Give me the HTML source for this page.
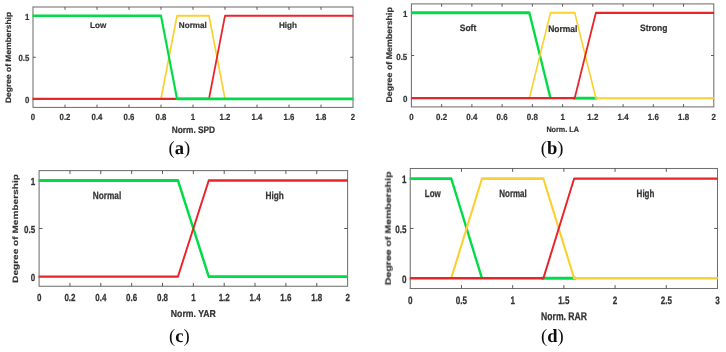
<!DOCTYPE html>
<html lang="en"><head><meta charset="utf-8"><title>Membership functions</title>
<style>html,body{margin:0;padding:0;background:#fff}svg{display:block}text{font-family:"Liberation Sans", sans-serif;font-weight:bold;fill:#333333;stroke:#333333;stroke-width:0.2px;text-rendering:geometricPrecision}.cap{font-family:"Liberation Serif", serif;font-weight:normal;fill:#111;stroke:none}</style></head><body>
<svg width="726" height="352" viewBox="0 0 726 352">
<defs><filter id="soft" x="-2%" y="-2%" width="104%" height="104%"><feGaussianBlur stdDeviation="0.45"/></filter><filter id="soft2" x="-2%" y="-2%" width="104%" height="104%"><feGaussianBlur stdDeviation="0.60"/></filter></defs>
<rect width="726" height="352" fill="#fff"/>
<g filter="url(#soft)" fill="none">
<rect x="33.00" y="7.00" width="320.00" height="100.40" stroke="#707070" stroke-width="1.05"/>
<path d="M65.00 107.40v-2.8M65.00 7.00v2.8M97.00 107.40v-2.8M97.00 7.00v2.8M129.00 107.40v-2.8M129.00 7.00v2.8M161.00 107.40v-2.8M161.00 7.00v2.8M193.00 107.40v-2.8M193.00 7.00v2.8M225.00 107.40v-2.8M225.00 7.00v2.8M257.00 107.40v-2.8M257.00 7.00v2.8M289.00 107.40v-2.8M289.00 7.00v2.8M321.00 107.40v-2.8M321.00 7.00v2.8M33.00 98.80h2.8M353.00 98.80h-2.8M33.00 57.27h2.8M353.00 57.27h-2.8M33.00 15.75h2.8M353.00 15.75h-2.8" stroke="#4a4a4a" stroke-width="0.9"/>
<rect x="411.40" y="3.90" width="302.40" height="103.00" stroke="#707070" stroke-width="1.05"/>
<path d="M441.64 106.90v-2.8M441.64 3.90v2.8M471.88 106.90v-2.8M471.88 3.90v2.8M502.12 106.90v-2.8M502.12 3.90v2.8M532.36 106.90v-2.8M532.36 3.90v2.8M562.60 106.90v-2.8M562.60 3.90v2.8M592.84 106.90v-2.8M592.84 3.90v2.8M623.08 106.90v-2.8M623.08 3.90v2.8M653.32 106.90v-2.8M653.32 3.90v2.8M683.56 106.90v-2.8M683.56 3.90v2.8M411.40 98.20h2.8M713.80 98.20h-2.8M411.40 55.50h2.8M713.80 55.50h-2.8M411.40 12.80h2.8M713.80 12.80h-2.8" stroke="#4a4a4a" stroke-width="0.9"/>
<rect x="39.10" y="170.60" width="308.50" height="115.65" stroke="#707070" stroke-width="1.05"/>
<path d="M69.95 286.25v-3.4M69.95 170.60v3.4M100.80 286.25v-3.4M100.80 170.60v3.4M131.65 286.25v-3.4M131.65 170.60v3.4M162.50 286.25v-3.4M162.50 170.60v3.4M193.35 286.25v-3.4M193.35 170.60v3.4M224.20 286.25v-3.4M224.20 170.60v3.4M255.05 286.25v-3.4M255.05 170.60v3.4M285.90 286.25v-3.4M285.90 170.60v3.4M316.75 286.25v-3.4M316.75 170.60v3.4M39.10 276.60h3.4M347.60 276.60h-3.4M39.10 228.50h3.4M347.60 228.50h-3.4M39.10 180.40h3.4M347.60 180.40h-3.4" stroke="#4a4a4a" stroke-width="0.9"/>
<rect x="410.25" y="168.50" width="307.25" height="120.00" stroke="#707070" stroke-width="1.05"/>
<path d="M461.46 288.50v-3.4M461.46 168.50v3.4M512.67 288.50v-3.4M512.67 168.50v3.4M563.88 288.50v-3.4M563.88 168.50v3.4M615.08 288.50v-3.4M615.08 168.50v3.4M666.29 288.50v-3.4M666.29 168.50v3.4M410.25 278.25h3.4M717.50 278.25h-3.4M410.25 228.43h3.4M717.50 228.43h-3.4M410.25 178.60h3.4M717.50 178.60h-3.4" stroke="#4a4a4a" stroke-width="0.9"/>
</g>
<g filter="url(#soft2)" fill="none" stroke-linejoin="round">
<polyline transform="scale(1 1.250)" points="161.00,79.040 177.00,12.600 209.00,12.600 225.00,79.040" stroke="#fbd031" stroke-width="1.68"/>
<polyline transform="scale(1 1.250)" points="32.50,79.040 209.00,79.040 225.00,12.600 353.30,12.600" stroke="#e8252b" stroke-width="1.76"/>
<polyline transform="scale(1 1.250)" points="32.50,12.600 161.00,12.600 177.00,79.040 353.30,79.040" stroke="#04dc46" stroke-width="2.16"/>
<polyline transform="scale(1 1.250)" points="410.90,10.240 529.34,10.240 550.50,78.560" stroke="#04dc46" stroke-width="2.32"/>
<polyline transform="scale(1 1.250)" points="573.18,78.560 597.38,78.560" stroke="#04dc46" stroke-width="2.32"/>
<polyline transform="scale(1 1.250)" points="529.34,78.560 550.50,10.240 574.70,10.240 595.86,78.560 714.10,78.560" stroke="#fbd031" stroke-width="1.60"/>
<polyline transform="scale(1 1.250)" points="410.90,78.560 574.70,78.560 595.86,10.240 714.10,10.240" stroke="#e8252b" stroke-width="1.76"/>
<polyline transform="scale(1 1.250)" points="38.60,144.320 177.93,144.320 208.78,221.280 347.90,221.280" stroke="#04dc46" stroke-width="2.36"/>
<polyline transform="scale(1 1.250)" points="38.60,221.280 177.93,221.280 208.78,144.320 347.90,144.320" stroke="#e8252b" stroke-width="1.96"/>
<polyline transform="scale(1 1.250)" points="409.75,142.880 451.22,142.880 481.94,222.600" stroke="#04dc46" stroke-width="2.32"/>
<polyline transform="scale(1 1.250)" points="541.34,222.600 576.16,222.600" stroke="#04dc46" stroke-width="2.32"/>
<polyline transform="scale(1 1.250)" points="451.22,222.600 481.94,142.880 543.39,142.880 574.12,222.600 717.80,222.600" stroke="#fbd031" stroke-width="2.08"/>
<polyline transform="scale(1 1.250)" points="409.75,222.600 543.39,222.600 574.12,142.880 717.80,142.880" stroke="#e8252b" stroke-width="1.92"/>
</g>
<g filter="url(#soft)">
<g>
<text transform="translate(33.00 120.10) scale(1 1.135)" font-size="7.80" text-anchor="middle">0</text>
<text transform="translate(65.00 120.10) scale(1 1.135)" font-size="7.80" text-anchor="middle">0.2</text>
<text transform="translate(97.00 120.10) scale(1 1.135)" font-size="7.80" text-anchor="middle">0.4</text>
<text transform="translate(129.00 120.10) scale(1 1.135)" font-size="7.80" text-anchor="middle">0.6</text>
<text transform="translate(161.00 120.10) scale(1 1.135)" font-size="7.80" text-anchor="middle">0.8</text>
<text transform="translate(193.00 120.10) scale(1 1.135)" font-size="7.80" text-anchor="middle">1</text>
<text transform="translate(225.00 120.10) scale(1 1.135)" font-size="7.80" text-anchor="middle">1.2</text>
<text transform="translate(257.00 120.10) scale(1 1.135)" font-size="7.80" text-anchor="middle">1.4</text>
<text transform="translate(289.00 120.10) scale(1 1.135)" font-size="7.80" text-anchor="middle">1.6</text>
<text transform="translate(321.00 120.10) scale(1 1.135)" font-size="7.80" text-anchor="middle">1.8</text>
<text transform="translate(353.00 120.10) scale(1 1.135)" font-size="7.80" text-anchor="middle">2</text>
<text transform="translate(29.30 102.99) scale(1 1.135)" font-size="7.80" text-anchor="end">0</text>
<text transform="translate(29.30 61.46) scale(1 1.135)" font-size="7.80" text-anchor="end">0.5</text>
<text transform="translate(29.30 19.94) scale(1 1.135)" font-size="7.80" text-anchor="end">1</text>
<text transform="translate(98.10 28.35) scale(1 1.030)" font-size="8.15" text-anchor="middle" fill="#161616" stroke="#161616">Low</text>
<text transform="translate(192.80 28.45) scale(1 1.030)" font-size="8.15" text-anchor="middle" fill="#161616" stroke="#161616">Normal</text>
<text transform="translate(288.00 28.35) scale(1 1.030)" font-size="8.15" text-anchor="middle" fill="#161616" stroke="#161616">High</text>
<text transform="translate(193.40 133.00) scale(1 1.140)" font-size="8.30" text-anchor="middle">Norm. SPD</text>
<text transform="translate(11.40 57.40) rotate(-90) scale(1 0.920)" font-size="8.47" text-anchor="middle" fill="#2a2a2a" stroke="#2a2a2a" stroke-width="0.3">Degree of Membership</text>
<text class="cap" x="179.30" y="153.70" font-size="18.6" text-anchor="middle">(<tspan font-weight="bold">a</tspan>)</text>
</g>
<g>
<text transform="translate(411.40 120.10) scale(1 1.107)" font-size="7.95" text-anchor="middle">0</text>
<text transform="translate(441.64 120.10) scale(1 1.107)" font-size="7.95" text-anchor="middle">0.2</text>
<text transform="translate(471.88 120.10) scale(1 1.107)" font-size="7.95" text-anchor="middle">0.4</text>
<text transform="translate(502.12 120.10) scale(1 1.107)" font-size="7.95" text-anchor="middle">0.6</text>
<text transform="translate(532.36 120.10) scale(1 1.107)" font-size="7.95" text-anchor="middle">0.8</text>
<text transform="translate(562.60 120.10) scale(1 1.107)" font-size="7.95" text-anchor="middle">1</text>
<text transform="translate(592.84 120.10) scale(1 1.107)" font-size="7.95" text-anchor="middle">1.2</text>
<text transform="translate(623.08 120.10) scale(1 1.107)" font-size="7.95" text-anchor="middle">1.4</text>
<text transform="translate(653.32 120.10) scale(1 1.107)" font-size="7.95" text-anchor="middle">1.6</text>
<text transform="translate(683.56 120.10) scale(1 1.107)" font-size="7.95" text-anchor="middle">1.8</text>
<text transform="translate(713.80 120.10) scale(1 1.107)" font-size="7.95" text-anchor="middle">2</text>
<text transform="translate(407.30 102.37) scale(1 1.107)" font-size="7.95" text-anchor="end">0</text>
<text transform="translate(407.30 59.67) scale(1 1.107)" font-size="7.95" text-anchor="end">0.5</text>
<text transform="translate(407.30 16.97) scale(1 1.107)" font-size="7.95" text-anchor="end">1</text>
<text transform="translate(468.00 31.30) scale(1 1.095)" font-size="8.50" text-anchor="middle" fill="#161616" stroke="#161616">Soft</text>
<text transform="translate(562.80 32.10) scale(1 1.095)" font-size="8.50" text-anchor="middle" fill="#161616" stroke="#161616">Normal</text>
<text transform="translate(653.70 31.10) scale(1 1.095)" font-size="8.50" text-anchor="middle" fill="#161616" stroke="#161616">Strong</text>
<text transform="translate(562.70 131.80) scale(1 1.060)" font-size="7.25" text-anchor="middle">Norm. LA</text>
<text transform="translate(391.90 54.85) rotate(-90) scale(1 0.930)" font-size="8.87" text-anchor="middle" fill="#2a2a2a" stroke="#2a2a2a" stroke-width="0.3">Degree of Membership</text>
<text class="cap" x="552.20" y="153.90" font-size="18.6" text-anchor="middle">(<tspan font-weight="bold">b</tspan>)</text>
</g>
<g>
<text transform="translate(39.10 300.80) scale(1 1.280)" font-size="8.00" text-anchor="middle">0</text>
<text transform="translate(69.95 300.80) scale(1 1.280)" font-size="8.00" text-anchor="middle">0.2</text>
<text transform="translate(100.80 300.80) scale(1 1.280)" font-size="8.00" text-anchor="middle">0.4</text>
<text transform="translate(131.65 300.80) scale(1 1.280)" font-size="8.00" text-anchor="middle">0.6</text>
<text transform="translate(162.50 300.80) scale(1 1.280)" font-size="8.00" text-anchor="middle">0.8</text>
<text transform="translate(193.35 300.80) scale(1 1.280)" font-size="8.00" text-anchor="middle">1</text>
<text transform="translate(224.20 300.80) scale(1 1.280)" font-size="8.00" text-anchor="middle">1.2</text>
<text transform="translate(255.05 300.80) scale(1 1.280)" font-size="8.00" text-anchor="middle">1.4</text>
<text transform="translate(285.90 300.80) scale(1 1.280)" font-size="8.00" text-anchor="middle">1.6</text>
<text transform="translate(316.75 300.80) scale(1 1.280)" font-size="8.00" text-anchor="middle">1.8</text>
<text transform="translate(347.60 300.80) scale(1 1.280)" font-size="8.00" text-anchor="middle">2</text>
<text transform="translate(35.20 281.29) scale(1 1.280)" font-size="8.00" text-anchor="end">0</text>
<text transform="translate(35.20 233.19) scale(1 1.280)" font-size="8.00" text-anchor="end">0.5</text>
<text transform="translate(35.20 185.09) scale(1 1.280)" font-size="8.00" text-anchor="end">1</text>
<text transform="translate(107.00 199.45) scale(1 1.260)" font-size="8.25" text-anchor="middle" fill="#161616" stroke="#161616">Normal</text>
<text transform="translate(274.70 199.45) scale(1 1.260)" font-size="8.25" text-anchor="middle" fill="#161616" stroke="#161616">High</text>
<text transform="translate(193.30 316.50) scale(1 1.160)" font-size="8.70" text-anchor="middle">Norm. YAR</text>
<text transform="translate(18.00 228.50) rotate(-90) scale(1 0.770)" font-size="10.10" text-anchor="middle" fill="#2a2a2a" stroke="#2a2a2a" stroke-width="0.3">Degree of Membership</text>
<text class="cap" x="179.30" y="342.00" font-size="18.6" text-anchor="middle">(<tspan font-weight="bold">c</tspan>)</text>
</g>
<g>
<text transform="translate(410.25 304.10) scale(1 1.330)" font-size="8.10" text-anchor="middle">0</text>
<text transform="translate(461.46 304.10) scale(1 1.330)" font-size="8.10" text-anchor="middle">0.5</text>
<text transform="translate(512.67 304.10) scale(1 1.330)" font-size="8.10" text-anchor="middle">1</text>
<text transform="translate(563.88 304.10) scale(1 1.330)" font-size="8.10" text-anchor="middle">1.5</text>
<text transform="translate(615.08 304.10) scale(1 1.330)" font-size="8.10" text-anchor="middle">2</text>
<text transform="translate(666.29 304.10) scale(1 1.330)" font-size="8.10" text-anchor="middle">2.5</text>
<text transform="translate(717.50 304.10) scale(1 1.330)" font-size="8.10" text-anchor="middle">3</text>
<text transform="translate(406.50 283.13) scale(1 1.330)" font-size="8.10" text-anchor="end">0</text>
<text transform="translate(406.50 233.30) scale(1 1.330)" font-size="8.10" text-anchor="end">0.5</text>
<text transform="translate(406.50 183.48) scale(1 1.330)" font-size="8.10" text-anchor="end">1</text>
<text transform="translate(432.80 197.25) scale(1 1.315)" font-size="8.00" text-anchor="middle" fill="#161616" stroke="#161616">Low</text>
<text transform="translate(513.00 197.25) scale(1 1.315)" font-size="8.00" text-anchor="middle" fill="#161616" stroke="#161616">Normal</text>
<text transform="translate(645.50 197.25) scale(1 1.315)" font-size="8.00" text-anchor="middle" fill="#161616" stroke="#161616">High</text>
<text transform="translate(564.00 320.00) scale(1 1.290)" font-size="8.60" text-anchor="middle">Norm. RAR</text>
<text transform="translate(390.30 228.40) rotate(-90) scale(1 0.750)" font-size="10.56" text-anchor="middle" fill="#2a2a2a" stroke="#2a2a2a" stroke-width="0.3">Degree of Membership</text>
<text class="cap" x="552.40" y="341.90" font-size="18.6" text-anchor="middle">(<tspan font-weight="bold">d</tspan>)</text>
</g>
</g>
</svg></body></html>
